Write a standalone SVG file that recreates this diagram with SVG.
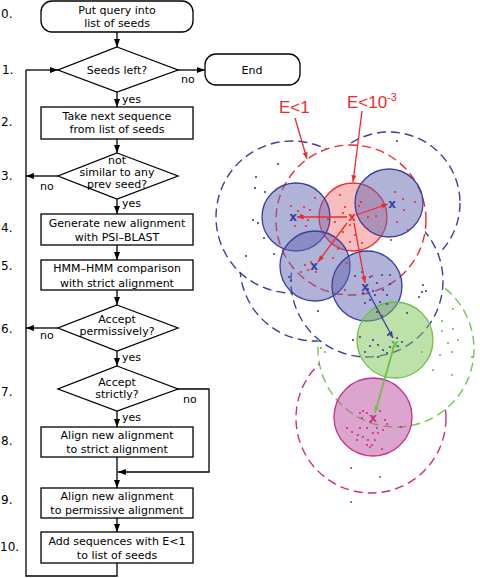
<svg xmlns="http://www.w3.org/2000/svg" width="480" height="578" viewBox="0 0 480 578">
<style>
.t{font-family:"DejaVu Sans","Liberation Sans",sans-serif;font-size:11px;fill:#000;text-anchor:middle}
.n{font-family:"DejaVu Sans","Liberation Sans",sans-serif;font-size:12px;fill:#000}
.l{font-family:"DejaVu Sans","Liberation Sans",sans-serif;font-size:11px;fill:#000}
.box{fill:#fff;stroke:#000;stroke-width:1.3}
.ln{fill:none;stroke:#000;stroke-width:1.3}
.e{font-family:"Liberation Sans",sans-serif;font-size:17px;fill:#ee2a2e}
.dB{fill:none;stroke:#3c3f9c;stroke-width:1.4;stroke-dasharray:9 5}
.dR{fill:none;stroke:#ee2a2e;stroke-width:1.4;stroke-dasharray:9 5}
.dG{fill:none;stroke:#74c452;stroke-width:1.4;stroke-dasharray:9 5}
.dM{fill:none;stroke:#c8308c;stroke-width:1.4;stroke-dasharray:9 5}
.sB{fill:#6165b0;fill-opacity:0.5;stroke:#3c3f9c;stroke-width:1.3}
.sR{fill:#f17d7d;fill-opacity:0.5;stroke:#ee2a2e;stroke-width:1.3}
.sG{fill:#7dc355;fill-opacity:0.5;stroke:#6cc04a;stroke-width:1.3}
.sM{fill:#b94b9b;fill-opacity:0.5;stroke:#c8308c;stroke-width:1.3}
.x{font-family:"DejaVu Sans",sans-serif;font-size:12px;font-weight:bold;text-anchor:middle}
</style>
<defs>
<marker id="ah" viewBox="0 0 8 6" refX="8" refY="3" markerWidth="8" markerHeight="6" markerUnits="userSpaceOnUse" orient="auto"><path d="M0,0 L8,3 L0,6 z" fill="#000"/></marker>
<marker id="ar" viewBox="0 0 8 6" refX="8" refY="3" markerWidth="7" markerHeight="5" markerUnits="userSpaceOnUse" orient="auto"><path d="M0,0 L8,3 L0,6 z" fill="#ee2a2e"/></marker>
<marker id="ab" viewBox="0 0 8 6" refX="8" refY="3" markerWidth="7" markerHeight="5" markerUnits="userSpaceOnUse" orient="auto"><path d="M0,0 L8,3 L0,6 z" fill="#3c3f9c"/></marker>
<marker id="ag" viewBox="0 0 8 6" refX="8" refY="3" markerWidth="7" markerHeight="5" markerUnits="userSpaceOnUse" orient="auto"><path d="M0,0 L8,3 L0,6 z" fill="#6cc04a"/></marker>
<mask id="mR" maskUnits="userSpaceOnUse" x="0" y="0" width="480" height="578"><rect width="480" height="578" fill="#fff"/><circle cx="351" cy="220" r="75" fill="#000"/></mask>
<mask id="mRD" maskUnits="userSpaceOnUse" x="0" y="0" width="480" height="578"><rect width="480" height="578" fill="#fff"/><circle cx="351" cy="220" r="75" fill="#000"/><circle cx="367" cy="281" r="76" fill="#000"/></mask>
<mask id="mRDA" maskUnits="userSpaceOnUse" x="0" y="0" width="480" height="578"><rect width="480" height="578" fill="#fff"/><circle cx="351" cy="220" r="75" fill="#000"/><circle cx="367" cy="281" r="76" fill="#000"/><circle cx="292" cy="217" r="76" fill="#000"/></mask>
<mask id="mD" maskUnits="userSpaceOnUse" x="0" y="0" width="480" height="578"><rect width="480" height="578" fill="#fff"/><circle cx="367" cy="281" r="76" fill="#000"/></mask>
<mask id="mG" maskUnits="userSpaceOnUse" x="0" y="0" width="480" height="578"><rect width="480" height="578" fill="#fff"/><circle cx="396" cy="349" r="78" fill="#000"/></mask>
</defs>

<!-- step numbers -->
<g id="steps">
<text class="n" x="1" y="18">0.</text>
<text class="n" x="2" y="74">1.</text>
<text class="n" x="1" y="126">2.</text>
<text class="n" x="1" y="180">3.</text>
<text class="n" x="1" y="232">4.</text>
<text class="n" x="1" y="270">5.</text>
<text class="n" x="1" y="333">6.</text>
<text class="n" x="1" y="396">7.</text>
<text class="n" x="1" y="445">8.</text>
<text class="n" x="1" y="504">9.</text>
<text class="n" x="0" y="551">10.</text>
</g>

<!-- connectors -->
<g id="connectors">
<path class="ln" d="M117,32 V47" marker-end="url(#ah)"/>
<path class="ln" d="M26,70 H58" marker-end="url(#ah)"/>
<path class="ln" d="M178,70 H205" marker-end="url(#ah)"/>
<path class="ln" d="M117,92 V107" marker-end="url(#ah)"/>
<path class="ln" d="M117,139 V153" marker-end="url(#ah)"/>
<path class="ln" d="M58,176 H26" marker-end="url(#ah)"/>
<path class="ln" d="M117,199 V214" marker-end="url(#ah)"/>
<path class="ln" d="M117,245 V260" marker-end="url(#ah)"/>
<path class="ln" d="M117,290 V305" marker-end="url(#ah)"/>
<path class="ln" d="M58,328 H26" marker-end="url(#ah)"/>
<path class="ln" d="M117,351 V366" marker-end="url(#ah)"/>
<path class="ln" d="M117,411 V427" marker-end="url(#ah)"/>
<path class="ln" d="M178,389 H209 V472 H118" marker-end="url(#ah)"/>
<path class="ln" d="M117,457 V488" marker-end="url(#ah)"/>
<path class="ln" d="M117,518 V532" marker-end="url(#ah)"/>
<path class="ln" d="M117,563 V576 H26 V70"/>
<text class="l" x="181" y="83">no</text>
<text class="l" x="122" y="103">yes</text>
<text class="l" x="40" y="190">no</text>
<text class="l" x="122" y="207">yes</text>
<text class="l" x="40" y="339">no</text>
<text class="l" x="122" y="361">yes</text>
<text class="l" x="183" y="403">no</text>
<text class="l" x="122" y="421">yes</text>
</g>

<g id="n0"><rect class="box" x="41" y="1" width="152" height="31" rx="11"/><text class="t" x="117" y="14">Put query into</text><text class="t" x="117" y="27">list of seeds</text></g>
<g id="n1"><polygon class="box" points="117,47 178,70 117,92 58,70"/><text class="t" x="117" y="74">Seeds left?</text></g>
<g id="nEnd"><rect class="box" x="205" y="54" width="95" height="31" rx="11"/><text class="t" x="252" y="74">End</text></g>
<g id="n2"><rect class="box" x="41" y="107" width="152" height="32"/><text class="t" x="117" y="120">Take next sequence</text><text class="t" x="117" y="133">from list of seeds</text></g>
<g id="n3"><polygon class="box" points="117,153 178,176 117,199 58,176"/><text class="t" x="117" y="164">not</text><text class="t" x="117" y="176">similar to any</text><text class="t" x="117" y="188">prev seed?</text></g>
<g id="n4"><rect class="box" x="41" y="214" width="152" height="31"/><text class="t" x="117" y="227">Generate new alignment</text><text class="t" x="117" y="241">with PSI–BLAST</text></g>
<g id="n5"><rect class="box" x="41" y="260" width="152" height="30"/><text class="t" x="117" y="272">HMM–HMM comparison</text><text class="t" x="117" y="287">with strict alignment</text></g>
<g id="n6"><polygon class="box" points="117,305 178,328 117,351 58,328"/><text class="t" x="117" y="323">Accept</text><text class="t" x="117" y="335">permissively?</text></g>
<g id="n7"><polygon class="box" points="117,366 178,389 117,411 58,389"/><text class="t" x="117" y="386">Accept</text><text class="t" x="117" y="398">strictly?</text></g>
<g id="n8"><rect class="box" x="41" y="427" width="152" height="30"/><text class="t" x="117" y="439">Align new alignment</text><text class="t" x="117" y="453">to strict alignment</text></g>
<g id="n9"><rect class="box" x="41" y="488" width="152" height="30"/><text class="t" x="117" y="500">Align new alignment</text><text class="t" x="117" y="514">to permissive alignment</text></g>
<g id="n10"><rect class="box" x="41" y="532" width="152" height="31"/><text class="t" x="117" y="545">Add sequences with E&lt;1</text><text class="t" x="117" y="559">to list of seeds</text></g>

<!-- right: clusters -->
<g id="neighbourhoods">
<circle class="dR" cx="351" cy="220" r="75"/>
<circle class="dB" cx="367" cy="281" r="76" mask="url(#mR)"/>
<circle class="dB" cx="292" cy="217" r="76" mask="url(#mRD)"/>
<circle class="dB" cx="389" cy="203" r="71" mask="url(#mRD)"/>
<circle class="dB" cx="315" cy="266" r="75" mask="url(#mRDA)"/>
<circle class="dG" cx="396" cy="349" r="78" mask="url(#mD)"/>
<circle class="dM" cx="371" cy="418" r="75" mask="url(#mG)"/>
</g>
<g id="seeds">
<circle class="sR" cx="353" cy="217" r="34"/>
<circle class="sB" cx="389" cy="203" r="34"/>
<circle class="sB" cx="296" cy="217" r="34"/>
<circle class="sB" cx="315" cy="266" r="35"/>
<circle class="sB" cx="367" cy="286" r="35"/>
<circle class="sG" cx="395" cy="340" r="38"/>
<circle class="sM" cx="373" cy="417" r="39"/>
</g>
<g id="dots-blue" fill="#3c3f9c">
<circle cx="278" cy="164" r="1.1"/><circle cx="256" cy="177" r="1.1"/><circle cx="255" cy="188" r="1.1"/><circle cx="265" cy="192" r="1.1"/><circle cx="253" cy="220" r="1.1"/><circle cx="258" cy="223" r="1.1"/><circle cx="264" cy="238" r="1.1"/><circle cx="246" cy="256" r="1.1"/><circle cx="274" cy="254" r="1.1"/><circle cx="289" cy="277" r="1.1"/><circle cx="291" cy="281" r="1.1"/><circle cx="397" cy="141" r="1.1"/><circle cx="318" cy="311" r="1.1"/><circle cx="353" cy="340" r="1.1"/>
<circle cx="423" cy="285" r="1.1"/><circle cx="422" cy="292" r="1.1"/><circle cx="426" cy="291" r="1.1"/><circle cx="419" cy="297" r="1.1"/><circle cx="407" cy="313" r="1.1"/><circle cx="382" cy="275" r="1.1"/><circle cx="390" cy="275" r="1.1"/>
<circle cx="370" cy="277" r="1.1"/><circle cx="377" cy="283" r="1.1"/><circle cx="383" cy="290" r="1.1"/><circle cx="387" cy="295" r="1.1"/><circle cx="375" cy="295" r="1.1"/><circle cx="370" cy="300" r="1.1"/><circle cx="365" cy="303" r="1.1"/><circle cx="380" cy="302" r="1.1"/><circle cx="390" cy="284" r="1.1"/><circle cx="377" cy="312" r="1.1"/><circle cx="382" cy="316" r="1.1"/><circle cx="363" cy="293" r="1.1"/><circle cx="355" cy="276" r="1.1"/><circle cx="362" cy="272" r="1.1"/><circle cx="387" cy="304" r="1.1"/><circle cx="368" cy="289" r="1.1"/><circle cx="373" cy="291" r="1.1"/>
<circle cx="373" cy="340" r="1.1"/><circle cx="378" cy="345" r="1.1"/><circle cx="383" cy="350" r="1.1"/><circle cx="390" cy="347" r="1.1"/><circle cx="393" cy="342" r="1.1"/><circle cx="398" cy="346" r="1.1"/><circle cx="397" cy="338" r="1.1"/><circle cx="402" cy="342" r="1.1"/><circle cx="387" cy="353" r="1.1"/><circle cx="365" cy="352" r="1.1"/><circle cx="360" cy="337" r="1.1"/><circle cx="378" cy="357" r="1.1"/><circle cx="388" cy="335" r="1.1"/><circle cx="370" cy="346" r="1.1"/>
</g>
<g id="dots-red" fill="#ee2a2e">
<circle cx="291" cy="206" r="1.1"/><circle cx="298" cy="211" r="1.1"/><circle cx="304" cy="207" r="1.1"/><circle cx="301" cy="215" r="1.1"/><circle cx="308" cy="220" r="1.1"/><circle cx="295" cy="226" r="1.1"/><circle cx="306" cy="226" r="1.1"/><circle cx="315" cy="198" r="1.1"/><circle cx="310" cy="210" r="1.1"/>
<circle cx="340" cy="195" r="1.1"/><circle cx="345" cy="207" r="1.1"/><circle cx="343" cy="213" r="1.1"/><circle cx="335" cy="222" r="1.1"/><circle cx="350" cy="225" r="1.1"/><circle cx="343" cy="232" r="1.1"/><circle cx="355" cy="235" r="1.1"/><circle cx="350" cy="242" r="1.1"/><circle cx="338" cy="249" r="1.1"/><circle cx="328" cy="219" r="1.1"/><circle cx="329" cy="225" r="1.1"/>
<circle cx="301" cy="272" r="1.1"/><circle cx="308" cy="270" r="1.1"/><circle cx="316" cy="272" r="1.1"/><circle cx="305" cy="265" r="1.1"/><circle cx="311" cy="262" r="1.1"/><circle cx="333" cy="258" r="1.1"/><circle cx="347" cy="263" r="1.1"/><circle cx="345" cy="290" r="1.1"/>
<circle cx="395" cy="192" r="1.1"/><circle cx="403" cy="199" r="1.1"/><circle cx="415" cy="202" r="1.1"/><circle cx="404" cy="210" r="1.1"/><circle cx="397" cy="222" r="1.1"/><circle cx="408" cy="230" r="1.1"/><circle cx="361" cy="202" r="1.1"/><circle cx="359" cy="206" r="1.1"/><circle cx="368" cy="217" r="1.1"/><circle cx="376" cy="216" r="1.1"/><circle cx="365" cy="227" r="1.1"/><circle cx="391" cy="240" r="1.1"/><circle cx="362" cy="243" r="1.1"/><circle cx="372" cy="276" r="1.1"/>
</g>
<g id="dots-green" fill="#6cc04a">
<circle cx="422" cy="352" r="1.1"/><circle cx="440" cy="355" r="1.1"/><circle cx="452" cy="352" r="1.1"/><circle cx="448" cy="343" r="1.1"/><circle cx="458" cy="340" r="1.1"/><circle cx="453" cy="329" r="1.1"/><circle cx="442" cy="321" r="1.1"/><circle cx="453" cy="309" r="1.1"/><circle cx="433" cy="370" r="1.1"/><circle cx="452" cy="375" r="1.1"/><circle cx="472" cy="357" r="1.1"/><circle cx="442" cy="331" r="1.1"/><circle cx="321" cy="348" r="1.1"/><circle cx="325" cy="352" r="1.1"/>
</g>
<g id="dots-magenta" fill="#c8308c">
<circle cx="360" cy="413" r="1.1"/><circle cx="363" cy="411" r="1.1"/><circle cx="367" cy="413" r="1.1"/><circle cx="380" cy="411" r="1.1"/><circle cx="362" cy="418" r="1.1"/><circle cx="370" cy="422" r="1.1"/><circle cx="385" cy="420" r="1.1"/><circle cx="387" cy="424" r="1.1"/><circle cx="347" cy="428" r="1.1"/><circle cx="352" cy="432" r="1.1"/><circle cx="360" cy="428" r="1.1"/><circle cx="367" cy="428" r="1.1"/><circle cx="358" cy="435" r="1.1"/><circle cx="363" cy="437" r="1.1"/><circle cx="373" cy="433" r="1.1"/><circle cx="378" cy="433" r="1.1"/><circle cx="357" cy="440" r="1.1"/><circle cx="368" cy="440" r="1.1"/><circle cx="375" cy="440" r="1.1"/><circle cx="367" cy="445" r="1.1"/><circle cx="372" cy="445" r="1.1"/><circle cx="370" cy="447" r="1.1"/><circle cx="382" cy="449" r="1.1"/><circle cx="401" cy="427" r="1.1"/><circle cx="377" cy="428" r="1.1"/><circle cx="383" cy="430" r="1.1"/>
<circle cx="351" cy="468" r="1.1"/><circle cx="380" cy="477" r="1.1"/><circle cx="351" cy="502" r="1.1"/>
</g>
<g id="search-arrows" fill="none" stroke-width="1.3">
<path d="M347,217 H297" stroke="#ee2a2e" marker-end="url(#ar)"/>
<path d="M356,215 L388,204" stroke="#ee2a2e" marker-end="url(#ar)"/>
<path d="M347,223 L318,262" stroke="#ee2a2e" marker-end="url(#ar)"/>
<path d="M354,223 L365,283" stroke="#ee2a2e" marker-end="url(#ar)"/>
<path d="M367,290 L393,338" stroke="#3c3f9c" marker-end="url(#ab)"/>
<path d="M394,346 L375,413" stroke="#6cc04a" stroke-width="1.8" marker-end="url(#ag)"/>
<path d="M295,118 L307,159" stroke="#ee2a2e" marker-end="url(#ar)"/>
<path d="M362,111 L353,182" stroke="#ee2a2e" marker-end="url(#ar)"/>
</g>
<g id="centres">
<text class="x" x="352" y="221" fill="#ee2a2e">x</text>
<text class="x" x="293" y="221" fill="#3c3f9c">x</text>
<text class="x" x="392" y="208" fill="#3c3f9c">x</text>
<text class="x" x="314" y="270" fill="#3c3f9c">x</text>
<text class="x" x="365" y="291" fill="#3c3f9c">x</text>
<text class="x" x="395" y="348" fill="#6cc04a">x</text>
<text class="x" x="373" y="422" fill="#c8308c">x</text>
</g>
<g id="labels">
<text class="e" x="279" y="113">E&lt;1</text>
<text class="e" x="347" y="108">E&lt;10<tspan dy="-7" font-size="11">-3</tspan></text>
</g>
</svg>
